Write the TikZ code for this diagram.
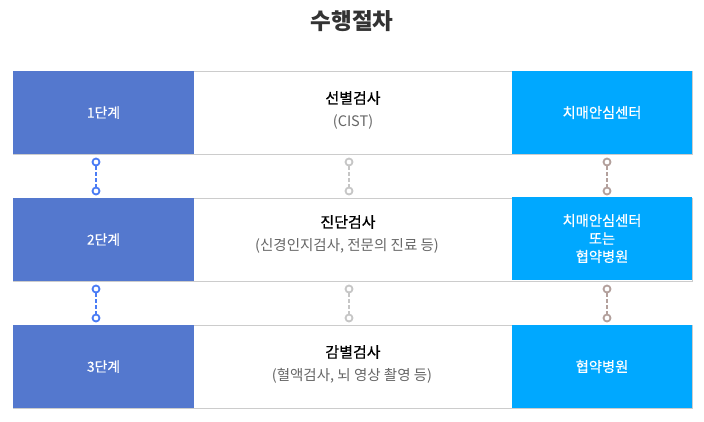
\documentclass[tikz,border=0pt]{standalone}
\usepackage{fontspec}
\setmainfont{Noto Sans CJK KR}
\newfontfamily\medfont[FakeBold=0.6]{Noto Sans CJK KR}
\newfontfamily\lightbold[FakeBold=0.3]{Noto Sans CJK KR}
\definecolor{stepblue}{HTML}{5478CE}
\definecolor{sideblue}{HTML}{00A8FF}
\definecolor{framegray}{HTML}{CCCCCC}
\definecolor{subgray}{HTML}{666666}
\definecolor{titlegray}{HTML}{333333}
\definecolor{linkblue}{HTML}{4A7CF5}
\definecolor{linkgray}{HTML}{C6C6C6}
\definecolor{linkbrown}{HTML}{B3A09C}
\begin{document}
\begin{tikzpicture}[x=1pt,y=-1pt,
  rowframe/.style={draw=framegray,line width=0.8pt,fill=white,minimum width=679pt,minimum height=83pt,inner sep=0pt},
  stepbox/.style={fill=stepblue,minimum width=181pt,minimum height=83pt,inner sep=0pt,text=white,font=\lightbold\fontsize{13.8}{15}\selectfont},
  placebox/.style={fill=sideblue,minimum width=180pt,minimum height=83pt,inner sep=0pt,text=white,align=center,font=\medfont\fontsize{14.3}{18}\selectfont},
  maintext/.style={text=black,font=\medfont\fontsize{15}{16}\selectfont},
  subtext/.style={text=subgray,font=\fontsize{14.5}{16}\selectfont},
  ring/.style={circle,draw=#1,line width=1.8pt,minimum size=7pt,inner sep=0pt,fill=white},
  link/.style={draw=#1,line width=2.4pt,dash pattern=on 3.5pt off 2.5pt}
]
\useasboundingbox (0,0) rectangle (704,421);
\fill[white] (0,0) rectangle (704,421);
\node[text=titlegray,font=\bfseries\fontsize{22.5}{25}\selectfont] (title) at (352,21) {수행절차};

% rows
\node[rowframe] (row1) at (352.5,112.5) {};
\node[rowframe] (row2) at (352.5,239.5) {};
\node[rowframe] (row3) at (352.5,366.5) {};

\node[stepbox] (s1) at (103.5,112.5) {1단계};
\node[stepbox] (s2) at (103.5,239.5) {2단계};
\node[stepbox] (s3) at (103.5,366.5) {3단계};

\node[placebox] (p1) at (602,112.5) {치매안심센터};
\node[placebox] (p2) at (602,238.5) {치매안심센터\\또는\\협약병원};
\node[placebox] (p3) at (602,366.5) {협약병원};

\node[maintext] (m1) at (353,98) {선별검사};
\node[subtext] (u1) at (353,122) {(CIST)};
\node[maintext] (m2) at (348,222) {진단검사};
\node[subtext] (u2) at (347,246) {(신경인지검사, 전문의 진료 등)};
\node[maintext] (m3) at (353,352) {감별검사};
\node[subtext] (u3) at (352,376) {(혈액검사, 뇌 영상 촬영 등)};

% connectors between row 1 and 2
\node[ring=linkblue] (a1) at (96,162) {};
\node[ring=linkblue] (a2) at (96,191) {};
\node[ring=linkgray] (b1) at (349,162) {};
\node[ring=linkgray] (b2) at (349,191) {};
\node[ring=linkbrown] (c1) at (607,162) {};
\node[ring=linkbrown] (c2) at (607,191) {};
\draw[link=linkblue] (a1.south) -- (a2.north);
\draw[link=linkgray] (b1.south) -- (b2.north);
\draw[link=linkbrown] (c1.south) -- (c2.north);

% connectors between row 2 and 3
\node[ring=linkblue] (a3) at (96,289) {};
\node[ring=linkblue] (a4) at (96,318) {};
\node[ring=linkgray] (b3) at (349,289) {};
\node[ring=linkgray] (b4) at (349,318) {};
\node[ring=linkbrown] (c3) at (607,289) {};
\node[ring=linkbrown] (c4) at (607,318) {};
\draw[link=linkblue] (a3.south) -- (a4.north);
\draw[link=linkgray] (b3.south) -- (b4.north);
\draw[link=linkbrown] (c3.south) -- (c4.north);
\end{tikzpicture}
\end{document}
